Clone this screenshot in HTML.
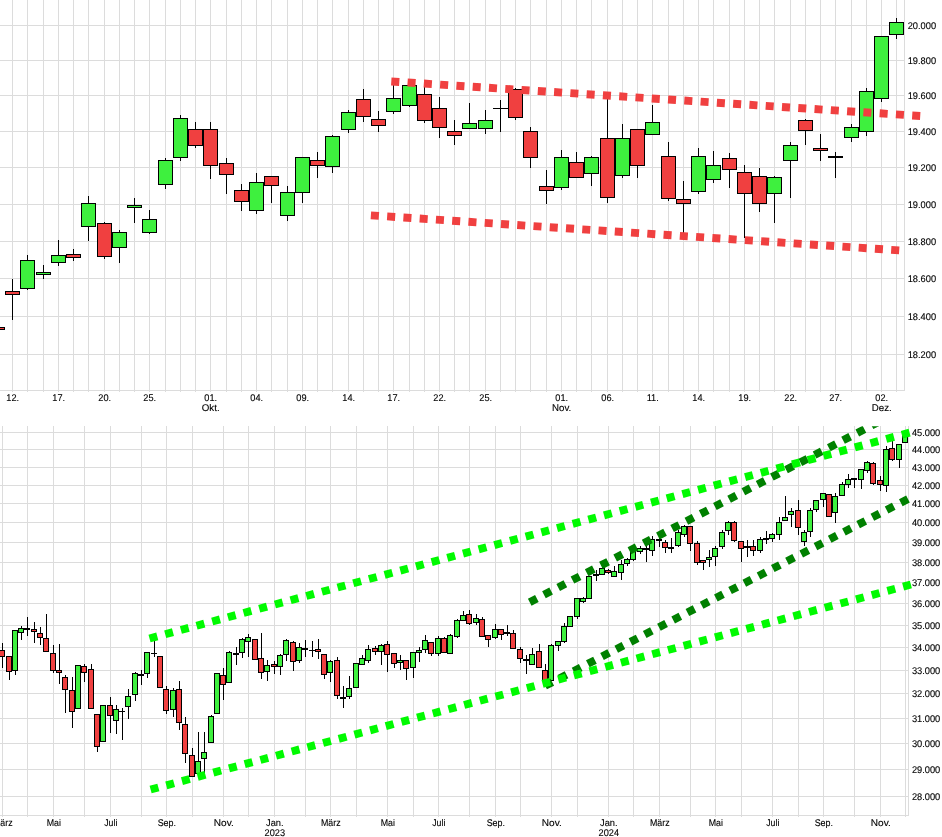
<!DOCTYPE html>
<html lang="de"><head><meta charset="utf-8"><title>Chart</title>
<style>html,body{margin:0;padding:0;background:#fff}svg{display:block}.lbl{font-family:"Liberation Sans",sans-serif;font-size:9.7px;fill:#000;stroke:#000;stroke-width:0.12px;text-rendering:geometricPrecision}</style></head>
<body>
<svg width="942" height="837" viewBox="0 0 942 837" role="img" aria-label="Kerzencharts">
<rect width="942" height="837" fill="#fff"/>
<g>
<rect x="12" y="0" width="1" height="392" fill="#dcdcdc"/>
<rect x="27" y="0" width="1" height="392" fill="#dcdcdc"/>
<rect x="43" y="0" width="1" height="392" fill="#dcdcdc"/>
<rect x="58" y="0" width="1" height="392" fill="#dcdcdc"/>
<rect x="73" y="0" width="1" height="392" fill="#dcdcdc"/>
<rect x="88" y="0" width="1" height="392" fill="#dcdcdc"/>
<rect x="104" y="0" width="1" height="392" fill="#dcdcdc"/>
<rect x="119" y="0" width="1" height="392" fill="#dcdcdc"/>
<rect x="134" y="0" width="1" height="392" fill="#dcdcdc"/>
<rect x="149" y="0" width="1" height="392" fill="#dcdcdc"/>
<rect x="165" y="0" width="1" height="392" fill="#dcdcdc"/>
<rect x="180" y="0" width="1" height="392" fill="#dcdcdc"/>
<rect x="195" y="0" width="1" height="392" fill="#dcdcdc"/>
<rect x="210" y="0" width="1" height="392" fill="#dcdcdc"/>
<rect x="226" y="0" width="1" height="392" fill="#dcdcdc"/>
<rect x="241" y="0" width="1" height="392" fill="#dcdcdc"/>
<rect x="256" y="0" width="1" height="392" fill="#dcdcdc"/>
<rect x="271" y="0" width="1" height="392" fill="#dcdcdc"/>
<rect x="287" y="0" width="1" height="392" fill="#dcdcdc"/>
<rect x="302" y="0" width="1" height="392" fill="#dcdcdc"/>
<rect x="317" y="0" width="1" height="392" fill="#dcdcdc"/>
<rect x="332" y="0" width="1" height="392" fill="#dcdcdc"/>
<rect x="348" y="0" width="1" height="392" fill="#dcdcdc"/>
<rect x="363" y="0" width="1" height="392" fill="#dcdcdc"/>
<rect x="378" y="0" width="1" height="392" fill="#dcdcdc"/>
<rect x="393" y="0" width="1" height="392" fill="#dcdcdc"/>
<rect x="409" y="0" width="1" height="392" fill="#dcdcdc"/>
<rect x="424" y="0" width="1" height="392" fill="#dcdcdc"/>
<rect x="439" y="0" width="1" height="392" fill="#dcdcdc"/>
<rect x="454" y="0" width="1" height="392" fill="#dcdcdc"/>
<rect x="469" y="0" width="1" height="392" fill="#dcdcdc"/>
<rect x="485" y="0" width="1" height="392" fill="#dcdcdc"/>
<rect x="500" y="0" width="1" height="392" fill="#dcdcdc"/>
<rect x="515" y="0" width="1" height="392" fill="#dcdcdc"/>
<rect x="530" y="0" width="1" height="392" fill="#dcdcdc"/>
<rect x="546" y="0" width="1" height="392" fill="#dcdcdc"/>
<rect x="561" y="0" width="1" height="392" fill="#dcdcdc"/>
<rect x="576" y="0" width="1" height="392" fill="#dcdcdc"/>
<rect x="591" y="0" width="1" height="392" fill="#dcdcdc"/>
<rect x="607" y="0" width="1" height="392" fill="#dcdcdc"/>
<rect x="622" y="0" width="1" height="392" fill="#dcdcdc"/>
<rect x="637" y="0" width="1" height="392" fill="#dcdcdc"/>
<rect x="652" y="0" width="1" height="392" fill="#dcdcdc"/>
<rect x="668" y="0" width="1" height="392" fill="#dcdcdc"/>
<rect x="683" y="0" width="1" height="392" fill="#dcdcdc"/>
<rect x="698" y="0" width="1" height="392" fill="#dcdcdc"/>
<rect x="713" y="0" width="1" height="392" fill="#dcdcdc"/>
<rect x="729" y="0" width="1" height="392" fill="#dcdcdc"/>
<rect x="744" y="0" width="1" height="392" fill="#dcdcdc"/>
<rect x="759" y="0" width="1" height="392" fill="#dcdcdc"/>
<rect x="774" y="0" width="1" height="392" fill="#dcdcdc"/>
<rect x="790" y="0" width="1" height="392" fill="#dcdcdc"/>
<rect x="805" y="0" width="1" height="392" fill="#dcdcdc"/>
<rect x="820" y="0" width="1" height="392" fill="#dcdcdc"/>
<rect x="835" y="0" width="1" height="392" fill="#dcdcdc"/>
<rect x="851" y="0" width="1" height="392" fill="#dcdcdc"/>
<rect x="866" y="0" width="1" height="392" fill="#dcdcdc"/>
<rect x="881" y="0" width="1" height="392" fill="#dcdcdc"/>
<rect x="896" y="0" width="1" height="392" fill="#dcdcdc"/>
<rect x="904" y="0" width="1" height="391" fill="#dcdcdc"/>
<rect x="0" y="354" width="905" height="1" fill="#dcdcdc"/>
<rect x="0" y="316" width="905" height="1" fill="#dcdcdc"/>
<rect x="0" y="278" width="905" height="1" fill="#dcdcdc"/>
<rect x="0" y="241" width="905" height="1" fill="#dcdcdc"/>
<rect x="0" y="204" width="905" height="1" fill="#dcdcdc"/>
<rect x="0" y="167" width="905" height="1" fill="#dcdcdc"/>
<rect x="0" y="131" width="905" height="1" fill="#dcdcdc"/>
<rect x="0" y="95" width="905" height="1" fill="#dcdcdc"/>
<rect x="0" y="60" width="905" height="1" fill="#dcdcdc"/>
<rect x="0" y="25" width="905" height="1" fill="#dcdcdc"/>
<rect x="0" y="390" width="905" height="1" fill="#dcdcdc"/>
</g>
<g>
<rect x="-3" y="327" width="1" height="3" fill="#000"/><rect x="-10" y="327" width="15" height="3" fill="#000"/><rect x="-9" y="328" width="13" height="1" fill="#f04040"/>
<rect x="12" y="279" width="1" height="41" fill="#000"/><rect x="5" y="291" width="15" height="4" fill="#000"/><rect x="6" y="292" width="13" height="2" fill="#f04040"/>
<rect x="27" y="255" width="1" height="35" fill="#000"/><rect x="20" y="260" width="15" height="29" fill="#000"/><rect x="21" y="261" width="13" height="27" fill="#3ef03e"/>
<rect x="43" y="265" width="1" height="14" fill="#000"/><rect x="36" y="272" width="15" height="3" fill="#000"/><rect x="37" y="273" width="13" height="1" fill="#3ef03e"/>
<rect x="58" y="240" width="1" height="26" fill="#000"/><rect x="51" y="255" width="15" height="8" fill="#000"/><rect x="52" y="256" width="13" height="6" fill="#3ef03e"/>
<rect x="73" y="249" width="1" height="12" fill="#000"/><rect x="66" y="254" width="15" height="4" fill="#000"/><rect x="67" y="255" width="13" height="2" fill="#f04040"/>
<rect x="88" y="196" width="1" height="45" fill="#000"/><rect x="81" y="203" width="15" height="24" fill="#000"/><rect x="82" y="204" width="13" height="22" fill="#3ef03e"/>
<rect x="104" y="222" width="1" height="37" fill="#000"/><rect x="97" y="223" width="15" height="34" fill="#000"/><rect x="98" y="224" width="13" height="32" fill="#f04040"/>
<rect x="119" y="230" width="1" height="33" fill="#000"/><rect x="112" y="232" width="15" height="16" fill="#000"/><rect x="113" y="233" width="13" height="14" fill="#3ef03e"/>
<rect x="134" y="198" width="1" height="25" fill="#000"/><rect x="127" y="205" width="15" height="3" fill="#000"/><rect x="128" y="206" width="13" height="1" fill="#3ef03e"/>
<rect x="149" y="210" width="1" height="24" fill="#000"/><rect x="142" y="219" width="15" height="14" fill="#000"/><rect x="143" y="220" width="13" height="12" fill="#3ef03e"/>
<rect x="165" y="158" width="1" height="31" fill="#000"/><rect x="158" y="160" width="15" height="25" fill="#000"/><rect x="159" y="161" width="13" height="23" fill="#3ef03e"/>
<rect x="180" y="115" width="1" height="46" fill="#000"/><rect x="173" y="118" width="15" height="40" fill="#000"/><rect x="174" y="119" width="13" height="38" fill="#3ef03e"/>
<rect x="195" y="122" width="1" height="26" fill="#000"/><rect x="188" y="129" width="15" height="17" fill="#000"/><rect x="189" y="130" width="13" height="15" fill="#f04040"/>
<rect x="210" y="122" width="1" height="57" fill="#000"/><rect x="203" y="129" width="15" height="37" fill="#000"/><rect x="204" y="130" width="13" height="35" fill="#f04040"/>
<rect x="226" y="158" width="1" height="36" fill="#000"/><rect x="219" y="163" width="15" height="12" fill="#000"/><rect x="220" y="164" width="13" height="10" fill="#f04040"/>
<rect x="241" y="184" width="1" height="27" fill="#000"/><rect x="234" y="190" width="15" height="12" fill="#000"/><rect x="235" y="191" width="13" height="10" fill="#f04040"/>
<rect x="256" y="173" width="1" height="41" fill="#000"/><rect x="249" y="182" width="15" height="29" fill="#000"/><rect x="250" y="183" width="13" height="27" fill="#3ef03e"/>
<rect x="271" y="176" width="1" height="27" fill="#000"/><rect x="264" y="176" width="15" height="10" fill="#000"/><rect x="265" y="177" width="13" height="8" fill="#f04040"/>
<rect x="287" y="186" width="1" height="35" fill="#000"/><rect x="280" y="192" width="15" height="24" fill="#000"/><rect x="281" y="193" width="13" height="22" fill="#3ef03e"/>
<rect x="302" y="157" width="1" height="46" fill="#000"/><rect x="295" y="157" width="15" height="36" fill="#000"/><rect x="296" y="158" width="13" height="34" fill="#3ef03e"/>
<rect x="317" y="152" width="1" height="26" fill="#000"/><rect x="310" y="160" width="15" height="6" fill="#000"/><rect x="311" y="161" width="13" height="4" fill="#f04040"/>
<rect x="332" y="135" width="1" height="38" fill="#000"/><rect x="325" y="136" width="15" height="31" fill="#000"/><rect x="326" y="137" width="13" height="29" fill="#3ef03e"/>
<rect x="348" y="110" width="1" height="23" fill="#000"/><rect x="341" y="112" width="15" height="18" fill="#000"/><rect x="342" y="113" width="13" height="16" fill="#3ef03e"/>
<rect x="363" y="89" width="1" height="33" fill="#000"/><rect x="356" y="99" width="15" height="18" fill="#000"/><rect x="357" y="100" width="13" height="16" fill="#f04040"/>
<rect x="378" y="111" width="1" height="21" fill="#000"/><rect x="371" y="119" width="15" height="7" fill="#000"/><rect x="372" y="120" width="13" height="5" fill="#f04040"/>
<rect x="393" y="84" width="1" height="30" fill="#000"/><rect x="386" y="98" width="15" height="14" fill="#000"/><rect x="387" y="99" width="13" height="12" fill="#3ef03e"/>
<rect x="409" y="85" width="1" height="22" fill="#000"/><rect x="402" y="85" width="15" height="21" fill="#000"/><rect x="403" y="86" width="13" height="19" fill="#3ef03e"/>
<rect x="424" y="86" width="1" height="37" fill="#000"/><rect x="417" y="94" width="15" height="27" fill="#000"/><rect x="418" y="95" width="13" height="25" fill="#f04040"/>
<rect x="439" y="97" width="1" height="41" fill="#000"/><rect x="432" y="108" width="15" height="20" fill="#000"/><rect x="433" y="109" width="13" height="18" fill="#f04040"/>
<rect x="454" y="120" width="1" height="25" fill="#000"/><rect x="447" y="131" width="15" height="5" fill="#000"/><rect x="448" y="132" width="13" height="3" fill="#f04040"/>
<rect x="469" y="103" width="1" height="26" fill="#000"/><rect x="462" y="123" width="15" height="6" fill="#000"/><rect x="463" y="124" width="13" height="4" fill="#3ef03e"/>
<rect x="485" y="110" width="1" height="24" fill="#000"/><rect x="478" y="120" width="15" height="9" fill="#000"/><rect x="479" y="121" width="13" height="7" fill="#3ef03e"/>
<rect x="500" y="100" width="1" height="32" fill="#000"/><rect x="493" y="108" width="15" height="1" fill="#000"/>
<rect x="515" y="88" width="1" height="32" fill="#000"/><rect x="508" y="89" width="15" height="29" fill="#000"/><rect x="509" y="90" width="13" height="27" fill="#f04040"/>
<rect x="530" y="127" width="1" height="41" fill="#000"/><rect x="523" y="131" width="15" height="27" fill="#000"/><rect x="524" y="132" width="13" height="25" fill="#f04040"/>
<rect x="546" y="170" width="1" height="34" fill="#000"/><rect x="539" y="186" width="15" height="5" fill="#000"/><rect x="540" y="187" width="13" height="3" fill="#f04040"/>
<rect x="561" y="150" width="1" height="40" fill="#000"/><rect x="554" y="157" width="15" height="31" fill="#000"/><rect x="555" y="158" width="13" height="29" fill="#3ef03e"/>
<rect x="576" y="152" width="1" height="26" fill="#000"/><rect x="569" y="162" width="15" height="16" fill="#000"/><rect x="570" y="163" width="13" height="14" fill="#f04040"/>
<rect x="591" y="156" width="1" height="30" fill="#000"/><rect x="584" y="157" width="15" height="17" fill="#000"/><rect x="585" y="158" width="13" height="15" fill="#3ef03e"/>
<rect x="607" y="96" width="1" height="107" fill="#000"/><rect x="600" y="138" width="15" height="60" fill="#000"/><rect x="601" y="139" width="13" height="58" fill="#f04040"/>
<rect x="622" y="124" width="1" height="54" fill="#000"/><rect x="615" y="138" width="15" height="38" fill="#000"/><rect x="616" y="139" width="13" height="36" fill="#3ef03e"/>
<rect x="637" y="129" width="1" height="49" fill="#000"/><rect x="630" y="129" width="15" height="37" fill="#000"/><rect x="631" y="130" width="13" height="35" fill="#f04040"/>
<rect x="652" y="105" width="1" height="30" fill="#000"/><rect x="645" y="122" width="15" height="13" fill="#000"/><rect x="646" y="123" width="13" height="11" fill="#3ef03e"/>
<rect x="668" y="142" width="1" height="59" fill="#000"/><rect x="661" y="156" width="15" height="43" fill="#000"/><rect x="662" y="157" width="13" height="41" fill="#f04040"/>
<rect x="683" y="181" width="1" height="52" fill="#000"/><rect x="676" y="199" width="15" height="5" fill="#000"/><rect x="677" y="200" width="13" height="3" fill="#f04040"/>
<rect x="698" y="148" width="1" height="46" fill="#000"/><rect x="691" y="156" width="15" height="36" fill="#000"/><rect x="692" y="157" width="13" height="34" fill="#3ef03e"/>
<rect x="713" y="151" width="1" height="32" fill="#000"/><rect x="706" y="165" width="15" height="15" fill="#000"/><rect x="707" y="166" width="13" height="13" fill="#3ef03e"/>
<rect x="729" y="153" width="1" height="35" fill="#000"/><rect x="722" y="158" width="15" height="12" fill="#000"/><rect x="723" y="159" width="13" height="10" fill="#f04040"/>
<rect x="744" y="165" width="1" height="73" fill="#000"/><rect x="737" y="172" width="15" height="22" fill="#000"/><rect x="738" y="173" width="13" height="20" fill="#f04040"/>
<rect x="759" y="168" width="1" height="44" fill="#000"/><rect x="752" y="176" width="15" height="28" fill="#000"/><rect x="753" y="177" width="13" height="26" fill="#f04040"/>
<rect x="774" y="176" width="1" height="47" fill="#000"/><rect x="767" y="177" width="15" height="17" fill="#000"/><rect x="768" y="178" width="13" height="15" fill="#3ef03e"/>
<rect x="790" y="142" width="1" height="56" fill="#000"/><rect x="783" y="145" width="15" height="16" fill="#000"/><rect x="784" y="146" width="13" height="14" fill="#3ef03e"/>
<rect x="805" y="119" width="1" height="26" fill="#000"/><rect x="798" y="120" width="15" height="11" fill="#000"/><rect x="799" y="121" width="13" height="9" fill="#f04040"/>
<rect x="820" y="134" width="1" height="27" fill="#000"/><rect x="813" y="148" width="15" height="3" fill="#000"/><rect x="814" y="149" width="13" height="1" fill="#f04040"/>
<rect x="835" y="152" width="1" height="26" fill="#000"/><rect x="828" y="156" width="15" height="2" fill="#000"/>
<rect x="851" y="124" width="1" height="18" fill="#000"/><rect x="844" y="127" width="15" height="11" fill="#000"/><rect x="845" y="128" width="13" height="9" fill="#3ef03e"/>
<rect x="866" y="88" width="1" height="48" fill="#000"/><rect x="859" y="91" width="15" height="41" fill="#000"/><rect x="860" y="92" width="13" height="39" fill="#3ef03e"/>
<rect x="881" y="36" width="1" height="66" fill="#000"/><rect x="874" y="36" width="15" height="63" fill="#000"/><rect x="875" y="37" width="13" height="61" fill="#3ef03e"/>
<rect x="896" y="18" width="1" height="21" fill="#000"/><rect x="889" y="22" width="15" height="13" fill="#000"/><rect x="890" y="23" width="13" height="11" fill="#3ef03e"/>
</g>
<line x1="391.28" y1="81.44" x2="920.22" y2="115.96" stroke="#f04040" stroke-width="7.9" stroke-dasharray="8.050 8.263" />
<line x1="370.88" y1="215.33" x2="899.22" y2="250.37" stroke="#f04040" stroke-width="7.9" stroke-dasharray="8.050 8.245" />
<g class="lbl">
<text transform="translate(907.70,358.00) scale(0.958,1)" text-anchor="start">18.200</text>
<text transform="translate(907.70,320.00) scale(0.958,1)" text-anchor="start">18.400</text>
<text transform="translate(907.70,282.00) scale(0.958,1)" text-anchor="start">18.600</text>
<text transform="translate(907.70,245.00) scale(0.958,1)" text-anchor="start">18.800</text>
<text transform="translate(907.70,208.00) scale(0.958,1)" text-anchor="start">19.000</text>
<text transform="translate(907.70,171.00) scale(0.958,1)" text-anchor="start">19.200</text>
<text transform="translate(907.70,135.00) scale(0.958,1)" text-anchor="start">19.400</text>
<text transform="translate(907.70,99.00) scale(0.958,1)" text-anchor="start">19.600</text>
<text transform="translate(907.70,64.00) scale(0.958,1)" text-anchor="start">19.800</text>
<text transform="translate(907.70,29.00) scale(0.958,1)" text-anchor="start">20.000</text>
<text transform="translate(12.70,401.00) scale(0.946,1)" text-anchor="middle">12.</text>
<text transform="translate(58.70,401.00) scale(0.946,1)" text-anchor="middle">17.</text>
<text transform="translate(104.70,401.00) scale(0.946,1)" text-anchor="middle">20.</text>
<text transform="translate(149.70,401.00) scale(0.946,1)" text-anchor="middle">25.</text>
<text transform="translate(210.70,401.00) scale(0.946,1)" text-anchor="middle">01.</text>
<text transform="translate(210.70,411.00) scale(1.0,1)" text-anchor="middle">Okt.</text>
<text transform="translate(256.70,401.00) scale(0.946,1)" text-anchor="middle">04.</text>
<text transform="translate(302.70,401.00) scale(0.946,1)" text-anchor="middle">09.</text>
<text transform="translate(348.70,401.00) scale(0.946,1)" text-anchor="middle">14.</text>
<text transform="translate(393.70,401.00) scale(0.946,1)" text-anchor="middle">17.</text>
<text transform="translate(439.70,401.00) scale(0.946,1)" text-anchor="middle">22.</text>
<text transform="translate(485.70,401.00) scale(0.946,1)" text-anchor="middle">25.</text>
<text transform="translate(561.70,401.00) scale(0.946,1)" text-anchor="middle">01.</text>
<text transform="translate(561.70,411.00) scale(1.0,1)" text-anchor="middle">Nov.</text>
<text transform="translate(607.70,401.00) scale(0.946,1)" text-anchor="middle">06.</text>
<text transform="translate(652.70,401.00) scale(0.946,1)" text-anchor="middle">11.</text>
<text transform="translate(698.70,401.00) scale(0.946,1)" text-anchor="middle">14.</text>
<text transform="translate(744.70,401.00) scale(0.946,1)" text-anchor="middle">19.</text>
<text transform="translate(790.70,401.00) scale(0.946,1)" text-anchor="middle">22.</text>
<text transform="translate(835.70,401.00) scale(0.946,1)" text-anchor="middle">27.</text>
<text transform="translate(881.70,401.00) scale(0.946,1)" text-anchor="middle">02.</text>
<text transform="translate(881.70,411.00) scale(1.0,1)" text-anchor="middle">Dez.</text>
</g>
<g>
<rect x="2" y="426" width="1" height="391" fill="#dcdcdc"/>
<rect x="27" y="426" width="1" height="391" fill="#dcdcdc"/>
<rect x="53" y="426" width="1" height="391" fill="#dcdcdc"/>
<rect x="84" y="426" width="1" height="391" fill="#dcdcdc"/>
<rect x="110" y="426" width="1" height="391" fill="#dcdcdc"/>
<rect x="141" y="426" width="1" height="391" fill="#dcdcdc"/>
<rect x="166" y="426" width="1" height="391" fill="#dcdcdc"/>
<rect x="192" y="426" width="1" height="391" fill="#dcdcdc"/>
<rect x="223" y="426" width="1" height="391" fill="#dcdcdc"/>
<rect x="248" y="426" width="1" height="391" fill="#dcdcdc"/>
<rect x="274" y="426" width="1" height="391" fill="#dcdcdc"/>
<rect x="305" y="426" width="1" height="391" fill="#dcdcdc"/>
<rect x="330" y="426" width="1" height="391" fill="#dcdcdc"/>
<rect x="356" y="426" width="1" height="391" fill="#dcdcdc"/>
<rect x="387" y="426" width="1" height="391" fill="#dcdcdc"/>
<rect x="413" y="426" width="1" height="391" fill="#dcdcdc"/>
<rect x="438" y="426" width="1" height="391" fill="#dcdcdc"/>
<rect x="469" y="426" width="1" height="391" fill="#dcdcdc"/>
<rect x="495" y="426" width="1" height="391" fill="#dcdcdc"/>
<rect x="520" y="426" width="1" height="391" fill="#dcdcdc"/>
<rect x="551" y="426" width="1" height="391" fill="#dcdcdc"/>
<rect x="577" y="426" width="1" height="391" fill="#dcdcdc"/>
<rect x="608" y="426" width="1" height="391" fill="#dcdcdc"/>
<rect x="633" y="426" width="1" height="391" fill="#dcdcdc"/>
<rect x="659" y="426" width="1" height="391" fill="#dcdcdc"/>
<rect x="690" y="426" width="1" height="391" fill="#dcdcdc"/>
<rect x="715" y="426" width="1" height="391" fill="#dcdcdc"/>
<rect x="741" y="426" width="1" height="391" fill="#dcdcdc"/>
<rect x="772" y="426" width="1" height="391" fill="#dcdcdc"/>
<rect x="798" y="426" width="1" height="391" fill="#dcdcdc"/>
<rect x="823" y="426" width="1" height="391" fill="#dcdcdc"/>
<rect x="854" y="426" width="1" height="391" fill="#dcdcdc"/>
<rect x="880" y="426" width="1" height="391" fill="#dcdcdc"/>
<rect x="905" y="426" width="1" height="391" fill="#dcdcdc"/>
<rect x="908" y="426" width="1" height="390" fill="#dcdcdc"/>
<rect x="0" y="796" width="909" height="1" fill="#dcdcdc"/>
<rect x="0" y="769" width="909" height="1" fill="#dcdcdc"/>
<rect x="0" y="743" width="909" height="1" fill="#dcdcdc"/>
<rect x="0" y="718" width="909" height="1" fill="#dcdcdc"/>
<rect x="0" y="693" width="909" height="1" fill="#dcdcdc"/>
<rect x="0" y="670" width="909" height="1" fill="#dcdcdc"/>
<rect x="0" y="647" width="909" height="1" fill="#dcdcdc"/>
<rect x="0" y="625" width="909" height="1" fill="#dcdcdc"/>
<rect x="0" y="603" width="909" height="1" fill="#dcdcdc"/>
<rect x="0" y="582" width="909" height="1" fill="#dcdcdc"/>
<rect x="0" y="562" width="909" height="1" fill="#dcdcdc"/>
<rect x="0" y="542" width="909" height="1" fill="#dcdcdc"/>
<rect x="0" y="522" width="909" height="1" fill="#dcdcdc"/>
<rect x="0" y="503" width="909" height="1" fill="#dcdcdc"/>
<rect x="0" y="485" width="909" height="1" fill="#dcdcdc"/>
<rect x="0" y="467" width="909" height="1" fill="#dcdcdc"/>
<rect x="0" y="449" width="909" height="1" fill="#dcdcdc"/>
<rect x="0" y="432" width="909" height="1" fill="#dcdcdc"/>
<rect x="0" y="815" width="909" height="1" fill="#dcdcdc"/>
</g>
<g>
<rect x="2" y="643" width="1" height="25" fill="#000"/><rect x="-1" y="650" width="6" height="7" fill="#000"/><rect x="0" y="651" width="4" height="5" fill="#f04040"/>
<rect x="9" y="656" width="1" height="24" fill="#000"/><rect x="6" y="656" width="6" height="16" fill="#000"/><rect x="7" y="657" width="4" height="14" fill="#f04040"/>
<rect x="15" y="630" width="1" height="45" fill="#000"/><rect x="12" y="630" width="6" height="41" fill="#000"/><rect x="13" y="631" width="4" height="39" fill="#3ef03e"/>
<rect x="21" y="626" width="1" height="14" fill="#000"/><rect x="18" y="628" width="6" height="5" fill="#000"/><rect x="19" y="629" width="4" height="3" fill="#3ef03e"/>
<rect x="27" y="617" width="1" height="19" fill="#000"/><rect x="24" y="628" width="6" height="2" fill="#000"/>
<rect x="34" y="622" width="1" height="21" fill="#000"/><rect x="31" y="629" width="6" height="3" fill="#000"/><rect x="32" y="630" width="4" height="1" fill="#f04040"/>
<rect x="40" y="627" width="1" height="18" fill="#000"/><rect x="37" y="633" width="6" height="5" fill="#000"/><rect x="38" y="634" width="4" height="3" fill="#f04040"/>
<rect x="46" y="614" width="1" height="38" fill="#000"/><rect x="43" y="638" width="6" height="14" fill="#000"/><rect x="44" y="639" width="4" height="12" fill="#f04040"/>
<rect x="53" y="645" width="1" height="28" fill="#000"/><rect x="50" y="653" width="6" height="18" fill="#000"/><rect x="51" y="654" width="4" height="16" fill="#f04040"/>
<rect x="59" y="644" width="1" height="40" fill="#000"/><rect x="56" y="670" width="6" height="3" fill="#000"/><rect x="57" y="671" width="4" height="1" fill="#f04040"/>
<rect x="65" y="675" width="1" height="38" fill="#000"/><rect x="62" y="677" width="6" height="13" fill="#000"/><rect x="63" y="678" width="4" height="11" fill="#f04040"/>
<rect x="72" y="677" width="1" height="51" fill="#000"/><rect x="69" y="690" width="6" height="22" fill="#000"/><rect x="70" y="691" width="4" height="20" fill="#f04040"/>
<rect x="78" y="665" width="1" height="44" fill="#000"/><rect x="75" y="665" width="6" height="44" fill="#000"/><rect x="76" y="666" width="4" height="42" fill="#3ef03e"/>
<rect x="84" y="664" width="1" height="18" fill="#000"/><rect x="81" y="666" width="6" height="7" fill="#000"/><rect x="82" y="667" width="4" height="5" fill="#f04040"/>
<rect x="91" y="664" width="1" height="45" fill="#000"/><rect x="88" y="669" width="6" height="40" fill="#000"/><rect x="89" y="670" width="4" height="38" fill="#f04040"/>
<rect x="97" y="714" width="1" height="38" fill="#000"/><rect x="94" y="714" width="6" height="33" fill="#000"/><rect x="95" y="715" width="4" height="31" fill="#f04040"/>
<rect x="103" y="705" width="1" height="37" fill="#000"/><rect x="100" y="705" width="6" height="37" fill="#000"/><rect x="101" y="706" width="4" height="35" fill="#3ef03e"/>
<rect x="110" y="697" width="1" height="36" fill="#000"/><rect x="107" y="705" width="6" height="11" fill="#000"/><rect x="108" y="706" width="4" height="9" fill="#f04040"/>
<rect x="116" y="705" width="1" height="29" fill="#000"/><rect x="113" y="709" width="6" height="12" fill="#000"/><rect x="114" y="710" width="4" height="10" fill="#3ef03e"/>
<rect x="122" y="708" width="1" height="32" fill="#000"/><rect x="119" y="711" width="6" height="1" fill="#000"/>
<rect x="128" y="689" width="1" height="30" fill="#000"/><rect x="125" y="696" width="6" height="11" fill="#000"/><rect x="126" y="697" width="4" height="9" fill="#3ef03e"/>
<rect x="135" y="672" width="1" height="29" fill="#000"/><rect x="132" y="673" width="6" height="22" fill="#000"/><rect x="133" y="674" width="4" height="20" fill="#3ef03e"/>
<rect x="141" y="670" width="1" height="15" fill="#000"/><rect x="138" y="674" width="6" height="2" fill="#000"/>
<rect x="147" y="652" width="1" height="26" fill="#000"/><rect x="144" y="652" width="6" height="22" fill="#000"/><rect x="145" y="653" width="4" height="20" fill="#3ef03e"/>
<rect x="154" y="641" width="1" height="16" fill="#000"/><rect x="151" y="653" width="6" height="1" fill="#000"/>
<rect x="160" y="656" width="1" height="32" fill="#000"/><rect x="157" y="656" width="6" height="32" fill="#000"/><rect x="158" y="657" width="4" height="30" fill="#f04040"/>
<rect x="166" y="686" width="1" height="28" fill="#000"/><rect x="163" y="689" width="6" height="22" fill="#000"/><rect x="164" y="690" width="4" height="20" fill="#f04040"/>
<rect x="173" y="688" width="1" height="29" fill="#000"/><rect x="170" y="690" width="6" height="20" fill="#000"/><rect x="171" y="691" width="4" height="18" fill="#3ef03e"/>
<rect x="179" y="681" width="1" height="49" fill="#000"/><rect x="176" y="689" width="6" height="34" fill="#000"/><rect x="177" y="690" width="4" height="32" fill="#f04040"/>
<rect x="185" y="717" width="1" height="46" fill="#000"/><rect x="182" y="724" width="6" height="30" fill="#000"/><rect x="183" y="725" width="4" height="28" fill="#f04040"/>
<rect x="192" y="748" width="1" height="29" fill="#000"/><rect x="189" y="755" width="6" height="22" fill="#000"/><rect x="190" y="756" width="4" height="20" fill="#f04040"/>
<rect x="198" y="732" width="1" height="42" fill="#000"/><rect x="195" y="761" width="6" height="13" fill="#000"/><rect x="196" y="762" width="4" height="11" fill="#3ef03e"/>
<rect x="204" y="732" width="1" height="41" fill="#000"/><rect x="201" y="752" width="6" height="7" fill="#000"/><rect x="202" y="753" width="4" height="5" fill="#3ef03e"/>
<rect x="211" y="715" width="1" height="28" fill="#000"/><rect x="208" y="716" width="6" height="27" fill="#000"/><rect x="209" y="717" width="4" height="25" fill="#3ef03e"/>
<rect x="217" y="673" width="1" height="41" fill="#000"/><rect x="214" y="673" width="6" height="41" fill="#000"/><rect x="215" y="674" width="4" height="39" fill="#3ef03e"/>
<rect x="223" y="668" width="1" height="32" fill="#000"/><rect x="220" y="675" width="6" height="10" fill="#000"/><rect x="221" y="676" width="4" height="8" fill="#f04040"/>
<rect x="229" y="651" width="1" height="32" fill="#000"/><rect x="226" y="652" width="6" height="31" fill="#000"/><rect x="227" y="653" width="4" height="29" fill="#3ef03e"/>
<rect x="236" y="647" width="1" height="18" fill="#000"/><rect x="233" y="653" width="6" height="2" fill="#000"/>
<rect x="242" y="638" width="1" height="20" fill="#000"/><rect x="239" y="639" width="6" height="14" fill="#000"/><rect x="240" y="640" width="4" height="12" fill="#3ef03e"/>
<rect x="248" y="634" width="1" height="23" fill="#000"/><rect x="245" y="637" width="6" height="5" fill="#000"/><rect x="246" y="638" width="4" height="3" fill="#3ef03e"/>
<rect x="255" y="639" width="1" height="21" fill="#000"/><rect x="252" y="639" width="6" height="21" fill="#000"/><rect x="253" y="640" width="4" height="19" fill="#f04040"/>
<rect x="261" y="633" width="1" height="46" fill="#000"/><rect x="258" y="658" width="6" height="15" fill="#000"/><rect x="259" y="659" width="4" height="13" fill="#f04040"/>
<rect x="267" y="660" width="1" height="21" fill="#000"/><rect x="264" y="665" width="6" height="7" fill="#000"/><rect x="265" y="666" width="4" height="5" fill="#3ef03e"/>
<rect x="274" y="661" width="1" height="13" fill="#000"/><rect x="271" y="664" width="6" height="3" fill="#000"/><rect x="272" y="665" width="4" height="1" fill="#f04040"/>
<rect x="280" y="654" width="1" height="21" fill="#000"/><rect x="277" y="655" width="6" height="12" fill="#000"/><rect x="278" y="656" width="4" height="10" fill="#3ef03e"/>
<rect x="286" y="639" width="1" height="22" fill="#000"/><rect x="283" y="640" width="6" height="15" fill="#000"/><rect x="284" y="641" width="4" height="13" fill="#3ef03e"/>
<rect x="293" y="641" width="1" height="30" fill="#000"/><rect x="290" y="642" width="6" height="20" fill="#000"/><rect x="291" y="643" width="4" height="18" fill="#f04040"/>
<rect x="299" y="643" width="1" height="20" fill="#000"/><rect x="296" y="647" width="6" height="14" fill="#000"/><rect x="297" y="648" width="4" height="12" fill="#3ef03e"/>
<rect x="305" y="640" width="1" height="17" fill="#000"/><rect x="302" y="648" width="6" height="2" fill="#000"/>
<rect x="312" y="641" width="1" height="16" fill="#000"/><rect x="309" y="650" width="6" height="1" fill="#000"/>
<rect x="318" y="639" width="1" height="20" fill="#000"/><rect x="315" y="649" width="6" height="3" fill="#000"/><rect x="316" y="650" width="4" height="1" fill="#f04040"/>
<rect x="324" y="654" width="1" height="25" fill="#000"/><rect x="321" y="654" width="6" height="21" fill="#000"/><rect x="322" y="655" width="4" height="19" fill="#f04040"/>
<rect x="330" y="660" width="1" height="22" fill="#000"/><rect x="327" y="661" width="6" height="12" fill="#000"/><rect x="328" y="662" width="4" height="10" fill="#3ef03e"/>
<rect x="337" y="657" width="1" height="42" fill="#000"/><rect x="334" y="660" width="6" height="36" fill="#000"/><rect x="335" y="661" width="4" height="34" fill="#f04040"/>
<rect x="343" y="686" width="1" height="22" fill="#000"/><rect x="340" y="697" width="6" height="2" fill="#000"/>
<rect x="349" y="676" width="1" height="23" fill="#000"/><rect x="346" y="688" width="6" height="9" fill="#000"/><rect x="347" y="689" width="4" height="7" fill="#3ef03e"/>
<rect x="356" y="663" width="1" height="25" fill="#000"/><rect x="353" y="663" width="6" height="25" fill="#000"/><rect x="354" y="664" width="4" height="23" fill="#3ef03e"/>
<rect x="362" y="655" width="1" height="10" fill="#000"/><rect x="359" y="658" width="6" height="7" fill="#000"/><rect x="360" y="659" width="4" height="5" fill="#3ef03e"/>
<rect x="368" y="645" width="1" height="18" fill="#000"/><rect x="365" y="649" width="6" height="12" fill="#000"/><rect x="366" y="650" width="4" height="10" fill="#3ef03e"/>
<rect x="375" y="646" width="1" height="9" fill="#000"/><rect x="372" y="648" width="6" height="4" fill="#000"/><rect x="373" y="649" width="4" height="2" fill="#f04040"/>
<rect x="381" y="644" width="1" height="21" fill="#000"/><rect x="378" y="645" width="6" height="7" fill="#000"/><rect x="379" y="646" width="4" height="5" fill="#3ef03e"/>
<rect x="387" y="641" width="1" height="31" fill="#000"/><rect x="384" y="644" width="6" height="11" fill="#000"/><rect x="385" y="645" width="4" height="9" fill="#f04040"/>
<rect x="394" y="653" width="1" height="15" fill="#000"/><rect x="391" y="653" width="6" height="11" fill="#000"/><rect x="392" y="654" width="4" height="9" fill="#f04040"/>
<rect x="400" y="655" width="1" height="15" fill="#000"/><rect x="397" y="660" width="6" height="3" fill="#000"/><rect x="398" y="661" width="4" height="1" fill="#3ef03e"/>
<rect x="406" y="660" width="1" height="20" fill="#000"/><rect x="403" y="660" width="6" height="9" fill="#000"/><rect x="404" y="661" width="4" height="7" fill="#f04040"/>
<rect x="413" y="652" width="1" height="26" fill="#000"/><rect x="410" y="652" width="6" height="16" fill="#000"/><rect x="411" y="653" width="4" height="14" fill="#3ef03e"/>
<rect x="419" y="647" width="1" height="15" fill="#000"/><rect x="416" y="650" width="6" height="3" fill="#000"/><rect x="417" y="651" width="4" height="1" fill="#3ef03e"/>
<rect x="425" y="635" width="1" height="18" fill="#000"/><rect x="422" y="640" width="6" height="10" fill="#000"/><rect x="423" y="641" width="4" height="8" fill="#3ef03e"/>
<rect x="431" y="642" width="1" height="14" fill="#000"/><rect x="428" y="642" width="6" height="12" fill="#000"/><rect x="429" y="643" width="4" height="10" fill="#f04040"/>
<rect x="438" y="636" width="1" height="20" fill="#000"/><rect x="435" y="638" width="6" height="16" fill="#000"/><rect x="436" y="639" width="4" height="14" fill="#3ef03e"/>
<rect x="444" y="637" width="1" height="16" fill="#000"/><rect x="441" y="638" width="6" height="15" fill="#000"/><rect x="442" y="639" width="4" height="13" fill="#f04040"/>
<rect x="450" y="634" width="1" height="20" fill="#000"/><rect x="447" y="635" width="6" height="19" fill="#000"/><rect x="448" y="636" width="4" height="17" fill="#3ef03e"/>
<rect x="457" y="619" width="1" height="19" fill="#000"/><rect x="454" y="620" width="6" height="17" fill="#000"/><rect x="455" y="621" width="4" height="15" fill="#3ef03e"/>
<rect x="463" y="611" width="1" height="10" fill="#000"/><rect x="460" y="615" width="6" height="6" fill="#000"/><rect x="461" y="616" width="4" height="4" fill="#3ef03e"/>
<rect x="469" y="610" width="1" height="15" fill="#000"/><rect x="466" y="614" width="6" height="10" fill="#000"/><rect x="467" y="615" width="4" height="8" fill="#f04040"/>
<rect x="476" y="614" width="1" height="11" fill="#000"/><rect x="473" y="618" width="6" height="5" fill="#000"/><rect x="474" y="619" width="4" height="3" fill="#3ef03e"/>
<rect x="482" y="617" width="1" height="20" fill="#000"/><rect x="479" y="619" width="6" height="18" fill="#000"/><rect x="480" y="620" width="4" height="16" fill="#f04040"/>
<rect x="488" y="635" width="1" height="12" fill="#000"/><rect x="485" y="635" width="6" height="5" fill="#000"/><rect x="486" y="636" width="4" height="3" fill="#f04040"/>
<rect x="495" y="624" width="1" height="15" fill="#000"/><rect x="492" y="629" width="6" height="9" fill="#000"/><rect x="493" y="630" width="4" height="7" fill="#3ef03e"/>
<rect x="501" y="629" width="1" height="11" fill="#000"/><rect x="498" y="629" width="6" height="6" fill="#000"/><rect x="499" y="630" width="4" height="4" fill="#f04040"/>
<rect x="507" y="625" width="1" height="11" fill="#000"/><rect x="504" y="632" width="6" height="2" fill="#000"/>
<rect x="513" y="630" width="1" height="19" fill="#000"/><rect x="510" y="633" width="6" height="16" fill="#000"/><rect x="511" y="634" width="4" height="14" fill="#f04040"/>
<rect x="520" y="647" width="1" height="16" fill="#000"/><rect x="517" y="649" width="6" height="10" fill="#000"/><rect x="518" y="650" width="4" height="8" fill="#f04040"/>
<rect x="526" y="655" width="1" height="19" fill="#000"/><rect x="523" y="659" width="6" height="2" fill="#000"/>
<rect x="532" y="648" width="1" height="17" fill="#000"/><rect x="529" y="654" width="6" height="11" fill="#000"/><rect x="530" y="655" width="4" height="9" fill="#3ef03e"/>
<rect x="539" y="644" width="1" height="24" fill="#000"/><rect x="536" y="651" width="6" height="17" fill="#000"/><rect x="537" y="652" width="4" height="15" fill="#f04040"/>
<rect x="545" y="664" width="1" height="18" fill="#000"/><rect x="542" y="670" width="6" height="12" fill="#000"/><rect x="543" y="671" width="4" height="10" fill="#f04040"/>
<rect x="551" y="644" width="1" height="37" fill="#000"/><rect x="548" y="645" width="6" height="36" fill="#000"/><rect x="549" y="646" width="4" height="34" fill="#3ef03e"/>
<rect x="558" y="641" width="1" height="10" fill="#000"/><rect x="555" y="641" width="6" height="5" fill="#000"/><rect x="556" y="642" width="4" height="3" fill="#3ef03e"/>
<rect x="564" y="623" width="1" height="20" fill="#000"/><rect x="561" y="626" width="6" height="16" fill="#000"/><rect x="562" y="627" width="4" height="14" fill="#3ef03e"/>
<rect x="570" y="616" width="1" height="11" fill="#000"/><rect x="567" y="616" width="6" height="11" fill="#000"/><rect x="568" y="617" width="4" height="9" fill="#3ef03e"/>
<rect x="577" y="598" width="1" height="21" fill="#000"/><rect x="574" y="598" width="6" height="19" fill="#000"/><rect x="575" y="599" width="4" height="17" fill="#3ef03e"/>
<rect x="583" y="597" width="1" height="6" fill="#000"/><rect x="580" y="598" width="6" height="4" fill="#000"/><rect x="581" y="599" width="4" height="2" fill="#3ef03e"/>
<rect x="589" y="576" width="1" height="23" fill="#000"/><rect x="586" y="576" width="6" height="23" fill="#000"/><rect x="587" y="577" width="4" height="21" fill="#3ef03e"/>
<rect x="596" y="570" width="1" height="11" fill="#000"/><rect x="593" y="574" width="6" height="2" fill="#000"/>
<rect x="602" y="566" width="1" height="9" fill="#000"/><rect x="599" y="568" width="6" height="7" fill="#000"/><rect x="600" y="569" width="4" height="5" fill="#3ef03e"/>
<rect x="608" y="569" width="1" height="5" fill="#000"/><rect x="605" y="570" width="6" height="3" fill="#000"/><rect x="606" y="571" width="4" height="1" fill="#f04040"/>
<rect x="614" y="566" width="1" height="11" fill="#000"/><rect x="611" y="571" width="6" height="6" fill="#000"/><rect x="612" y="572" width="4" height="4" fill="#3ef03e"/>
<rect x="621" y="560" width="1" height="20" fill="#000"/><rect x="618" y="564" width="6" height="9" fill="#000"/><rect x="619" y="565" width="4" height="7" fill="#3ef03e"/>
<rect x="627" y="558" width="1" height="8" fill="#000"/><rect x="624" y="559" width="6" height="5" fill="#000"/><rect x="625" y="560" width="4" height="3" fill="#3ef03e"/>
<rect x="633" y="549" width="1" height="12" fill="#000"/><rect x="630" y="550" width="6" height="10" fill="#000"/><rect x="631" y="551" width="4" height="8" fill="#3ef03e"/>
<rect x="640" y="546" width="1" height="8" fill="#000"/><rect x="637" y="548" width="6" height="4" fill="#000"/><rect x="638" y="549" width="4" height="2" fill="#3ef03e"/>
<rect x="646" y="540" width="1" height="22" fill="#000"/><rect x="643" y="548" width="6" height="2" fill="#000"/>
<rect x="652" y="536" width="1" height="20" fill="#000"/><rect x="649" y="539" width="6" height="12" fill="#000"/><rect x="650" y="540" width="4" height="10" fill="#3ef03e"/>
<rect x="659" y="538" width="1" height="9" fill="#000"/><rect x="656" y="539" width="6" height="2" fill="#000"/>
<rect x="665" y="540" width="1" height="13" fill="#000"/><rect x="662" y="542" width="6" height="6" fill="#000"/><rect x="663" y="543" width="4" height="4" fill="#f04040"/>
<rect x="671" y="538" width="1" height="15" fill="#000"/><rect x="668" y="547" width="6" height="2" fill="#000"/>
<rect x="678" y="530" width="1" height="17" fill="#000"/><rect x="675" y="532" width="6" height="14" fill="#000"/><rect x="676" y="533" width="4" height="12" fill="#3ef03e"/>
<rect x="684" y="525" width="1" height="12" fill="#000"/><rect x="681" y="526" width="6" height="9" fill="#000"/><rect x="682" y="527" width="4" height="7" fill="#3ef03e"/>
<rect x="690" y="526" width="1" height="25" fill="#000"/><rect x="687" y="526" width="6" height="18" fill="#000"/><rect x="688" y="527" width="4" height="16" fill="#f04040"/>
<rect x="697" y="541" width="1" height="24" fill="#000"/><rect x="694" y="543" width="6" height="20" fill="#000"/><rect x="695" y="544" width="4" height="18" fill="#f04040"/>
<rect x="703" y="560" width="1" height="10" fill="#000"/><rect x="700" y="560" width="6" height="3" fill="#000"/><rect x="701" y="561" width="4" height="1" fill="#f04040"/>
<rect x="709" y="550" width="1" height="17" fill="#000"/><rect x="706" y="557" width="6" height="3" fill="#000"/><rect x="707" y="558" width="4" height="1" fill="#3ef03e"/>
<rect x="715" y="546" width="1" height="20" fill="#000"/><rect x="712" y="548" width="6" height="9" fill="#000"/><rect x="713" y="549" width="4" height="7" fill="#3ef03e"/>
<rect x="722" y="530" width="1" height="19" fill="#000"/><rect x="719" y="532" width="6" height="15" fill="#000"/><rect x="720" y="533" width="4" height="13" fill="#3ef03e"/>
<rect x="728" y="521" width="1" height="14" fill="#000"/><rect x="725" y="522" width="6" height="9" fill="#000"/><rect x="726" y="523" width="4" height="7" fill="#3ef03e"/>
<rect x="734" y="521" width="1" height="21" fill="#000"/><rect x="731" y="522" width="6" height="19" fill="#000"/><rect x="732" y="523" width="4" height="17" fill="#f04040"/>
<rect x="741" y="541" width="1" height="21" fill="#000"/><rect x="738" y="541" width="6" height="8" fill="#000"/><rect x="739" y="542" width="4" height="6" fill="#f04040"/>
<rect x="747" y="540" width="1" height="17" fill="#000"/><rect x="744" y="546" width="6" height="2" fill="#000"/>
<rect x="753" y="540" width="1" height="16" fill="#000"/><rect x="750" y="546" width="6" height="5" fill="#000"/><rect x="751" y="547" width="4" height="3" fill="#f04040"/>
<rect x="760" y="537" width="1" height="16" fill="#000"/><rect x="757" y="539" width="6" height="12" fill="#000"/><rect x="758" y="540" width="4" height="10" fill="#3ef03e"/>
<rect x="766" y="531" width="1" height="13" fill="#000"/><rect x="763" y="538" width="6" height="2" fill="#000"/>
<rect x="772" y="533" width="1" height="9" fill="#000"/><rect x="769" y="534" width="6" height="5" fill="#000"/><rect x="770" y="535" width="4" height="3" fill="#3ef03e"/>
<rect x="779" y="517" width="1" height="23" fill="#000"/><rect x="776" y="522" width="6" height="13" fill="#000"/><rect x="777" y="523" width="4" height="11" fill="#3ef03e"/>
<rect x="785" y="496" width="1" height="25" fill="#000"/><rect x="782" y="517" width="6" height="4" fill="#000"/><rect x="783" y="518" width="4" height="2" fill="#3ef03e"/>
<rect x="791" y="508" width="1" height="19" fill="#000"/><rect x="788" y="511" width="6" height="4" fill="#000"/><rect x="789" y="512" width="4" height="2" fill="#3ef03e"/>
<rect x="798" y="500" width="1" height="35" fill="#000"/><rect x="795" y="510" width="6" height="18" fill="#000"/><rect x="796" y="511" width="4" height="16" fill="#f04040"/>
<rect x="804" y="530" width="1" height="16" fill="#000"/><rect x="801" y="532" width="6" height="10" fill="#000"/><rect x="802" y="533" width="4" height="8" fill="#3ef03e"/>
<rect x="810" y="508" width="1" height="29" fill="#000"/><rect x="807" y="510" width="6" height="22" fill="#000"/><rect x="808" y="511" width="4" height="20" fill="#3ef03e"/>
<rect x="816" y="500" width="1" height="12" fill="#000"/><rect x="813" y="500" width="6" height="10" fill="#000"/><rect x="814" y="501" width="4" height="8" fill="#3ef03e"/>
<rect x="823" y="493" width="1" height="14" fill="#000"/><rect x="820" y="493" width="6" height="7" fill="#000"/><rect x="821" y="494" width="4" height="5" fill="#3ef03e"/>
<rect x="829" y="494" width="1" height="23" fill="#000"/><rect x="826" y="494" width="6" height="23" fill="#000"/><rect x="827" y="495" width="4" height="21" fill="#f04040"/>
<rect x="835" y="493" width="1" height="30" fill="#000"/><rect x="832" y="496" width="6" height="17" fill="#000"/><rect x="833" y="497" width="4" height="15" fill="#3ef03e"/>
<rect x="842" y="482" width="1" height="14" fill="#000"/><rect x="839" y="484" width="6" height="12" fill="#000"/><rect x="840" y="485" width="4" height="10" fill="#3ef03e"/>
<rect x="848" y="474" width="1" height="14" fill="#000"/><rect x="845" y="479" width="6" height="6" fill="#000"/><rect x="846" y="480" width="4" height="4" fill="#3ef03e"/>
<rect x="854" y="478" width="1" height="10" fill="#000"/><rect x="851" y="478" width="6" height="2" fill="#000"/>
<rect x="861" y="469" width="1" height="20" fill="#000"/><rect x="858" y="469" width="6" height="11" fill="#000"/><rect x="859" y="470" width="4" height="9" fill="#3ef03e"/>
<rect x="867" y="461" width="1" height="12" fill="#000"/><rect x="864" y="462" width="6" height="9" fill="#000"/><rect x="865" y="463" width="4" height="7" fill="#3ef03e"/>
<rect x="873" y="462" width="1" height="23" fill="#000"/><rect x="870" y="463" width="6" height="21" fill="#000"/><rect x="871" y="464" width="4" height="19" fill="#f04040"/>
<rect x="880" y="476" width="1" height="15" fill="#000"/><rect x="877" y="480" width="6" height="5" fill="#000"/><rect x="878" y="481" width="4" height="3" fill="#f04040"/>
<rect x="886" y="446" width="1" height="46" fill="#000"/><rect x="883" y="449" width="6" height="37" fill="#000"/><rect x="884" y="450" width="4" height="35" fill="#3ef03e"/>
<rect x="892" y="441" width="1" height="20" fill="#000"/><rect x="889" y="448" width="6" height="12" fill="#000"/><rect x="890" y="449" width="4" height="10" fill="#f04040"/>
<rect x="899" y="444" width="1" height="24" fill="#000"/><rect x="896" y="444" width="6" height="16" fill="#000"/><rect x="897" y="445" width="4" height="14" fill="#3ef03e"/>
<rect x="905" y="430" width="1" height="13" fill="#000"/><rect x="902" y="433" width="6" height="10" fill="#000"/><rect x="903" y="434" width="4" height="8" fill="#3ef03e"/>
</g>
<clipPath id="cb"><rect x="0" y="426.2" width="942" height="388.8"/></clipPath>
<g clip-path="url(#cb)">
<line x1="529.72" y1="602.15" x2="900.00" y2="410.90" stroke="#008000" stroke-width="7.9" stroke-dasharray="8.050 7.980" />
<line x1="545.12" y1="685.84" x2="907.98" y2="498.96" stroke="#008000" stroke-width="7.9" stroke-dasharray="8.050 7.954" />
<line x1="149.52" y1="638.50" x2="909.58" y2="432.60" stroke="#00fa00" stroke-width="7.9" stroke-dasharray="8.050 8.188" />
<line x1="150.61" y1="789.55" x2="910.89" y2="584.55" stroke="#00fa00" stroke-width="7.9" stroke-dasharray="8.050 8.187" />
</g>
<g class="lbl">
<text transform="translate(911.90,800.00) scale(0.958,1)" text-anchor="start">28.000</text>
<text transform="translate(911.90,773.00) scale(0.958,1)" text-anchor="start">29.000</text>
<text transform="translate(911.90,747.00) scale(0.958,1)" text-anchor="start">30.000</text>
<text transform="translate(911.90,722.00) scale(0.958,1)" text-anchor="start">31.000</text>
<text transform="translate(911.90,697.00) scale(0.958,1)" text-anchor="start">32.000</text>
<text transform="translate(911.90,674.00) scale(0.958,1)" text-anchor="start">33.000</text>
<text transform="translate(911.90,651.00) scale(0.958,1)" text-anchor="start">34.000</text>
<text transform="translate(911.90,629.00) scale(0.958,1)" text-anchor="start">35.000</text>
<text transform="translate(911.90,607.00) scale(0.958,1)" text-anchor="start">36.000</text>
<text transform="translate(911.90,586.00) scale(0.958,1)" text-anchor="start">37.000</text>
<text transform="translate(911.90,566.00) scale(0.958,1)" text-anchor="start">38.000</text>
<text transform="translate(911.90,546.00) scale(0.958,1)" text-anchor="start">39.000</text>
<text transform="translate(911.90,526.00) scale(0.958,1)" text-anchor="start">40.000</text>
<text transform="translate(911.90,507.00) scale(0.958,1)" text-anchor="start">41.000</text>
<text transform="translate(911.90,489.00) scale(0.958,1)" text-anchor="start">42.000</text>
<text transform="translate(911.90,471.00) scale(0.958,1)" text-anchor="start">43.000</text>
<text transform="translate(911.90,453.00) scale(0.958,1)" text-anchor="start">44.000</text>
<text transform="translate(911.90,436.00) scale(0.958,1)" text-anchor="start">45.000</text>
<text transform="translate(2.80,826.00) scale(0.91,1)" text-anchor="middle">März</text>
<text transform="translate(53.80,826.00) scale(0.91,1)" text-anchor="middle">Mai</text>
<text transform="translate(110.80,826.00) scale(0.9,1)" text-anchor="middle">Juli</text>
<text transform="translate(166.80,826.00) scale(0.92,1)" text-anchor="middle">Sep.</text>
<text transform="translate(223.80,826.00) scale(1.04,1)" text-anchor="middle">Nov.</text>
<text transform="translate(274.80,826.00) scale(0.96,1)" text-anchor="middle">Jan.</text>
<text transform="translate(274.80,836.00) scale(0.946,1)" text-anchor="middle">2023</text>
<text transform="translate(330.80,826.00) scale(0.91,1)" text-anchor="middle">März</text>
<text transform="translate(387.80,826.00) scale(0.91,1)" text-anchor="middle">Mai</text>
<text transform="translate(438.80,826.00) scale(0.9,1)" text-anchor="middle">Juli</text>
<text transform="translate(495.80,826.00) scale(0.92,1)" text-anchor="middle">Sep.</text>
<text transform="translate(551.80,826.00) scale(1.04,1)" text-anchor="middle">Nov.</text>
<text transform="translate(608.80,826.00) scale(0.96,1)" text-anchor="middle">Jan.</text>
<text transform="translate(608.80,836.00) scale(0.946,1)" text-anchor="middle">2024</text>
<text transform="translate(659.80,826.00) scale(0.91,1)" text-anchor="middle">März</text>
<text transform="translate(715.80,826.00) scale(0.91,1)" text-anchor="middle">Mai</text>
<text transform="translate(772.80,826.00) scale(0.9,1)" text-anchor="middle">Juli</text>
<text transform="translate(823.80,826.00) scale(0.92,1)" text-anchor="middle">Sep.</text>
<text transform="translate(880.80,826.00) scale(1.04,1)" text-anchor="middle">Nov.</text>
</g>
</svg>
</body></html>
